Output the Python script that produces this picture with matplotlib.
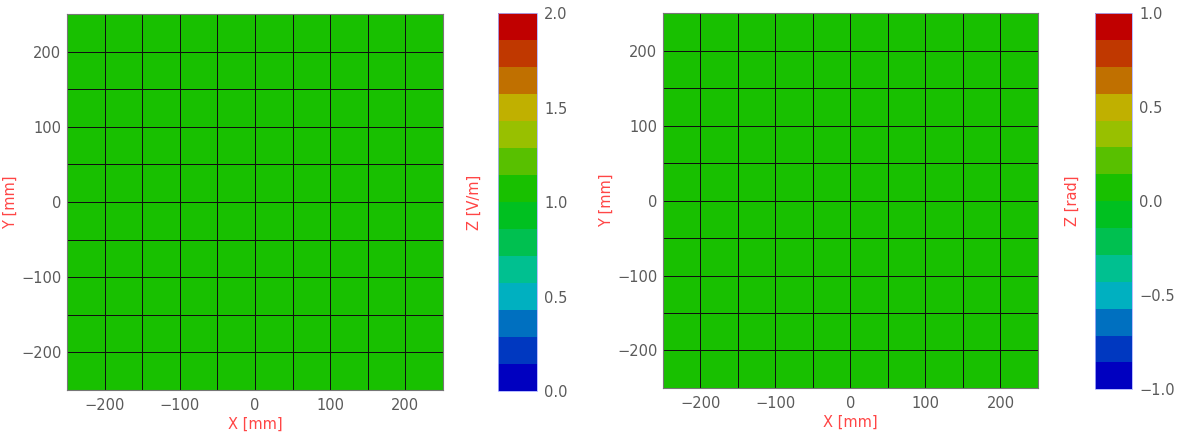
import numpy as np
import matplotlib
matplotlib.use("Agg")
import matplotlib.pyplot as plt
from matplotlib.colors import ListedColormap, Normalize
from matplotlib.colorbar import ColorbarBase

# cell edges of the 10x10 sample grid (mm)
x_edges = np.arange(-250, 251, 50)
y_edges = np.arange(-250, 251, 50)

# field values on the grid
efield = np.full((10, 10), 1.0)   # V/m
phase = np.full((10, 10), 0.0)    # rad

# 14 level palette, low -> high
levels = ["#0000C0", "#0038C0", "#0070C0", "#00B0C0", "#00C090", "#00C050",
          "#00C020", "#18C000", "#58C000", "#98C000", "#C0B000", "#C07000",
          "#C03800", "#C00000"]
cmap = ListedColormap(levels)

ticks_xy = [-200, -100, 0, 100, 200]
cb_ticks_left = [0.0, 0.5, 1.0, 1.5, 2.0]
cb_ticks_right = [-1.0, -0.5, 0.0, 0.5, 1.0]

tick_col = "#5a5a5a"
lab_col = "#FF4545"

fig = plt.figure(figsize=(11.92, 4.34), dpi=100)


def panel(rect, cbrect, data, vmin, vmax, cbticks, zlabel):
    ax = fig.add_axes(rect)
    norm = Normalize(vmin, vmax)
    ax.pcolormesh(x_edges, y_edges, data, cmap=cmap, norm=norm,
                  edgecolors="#101010", linewidth=0.6)
    ax.set_xlim(-250, 250)
    ax.set_ylim(-250, 250)
    ax.set_xticks(ticks_xy)
    ax.set_yticks(ticks_xy)
    ax.tick_params(length=0, labelsize=10.5, labelcolor=tick_col)
    ax.tick_params(axis="x", pad=6)
    ax.tick_params(axis="y", pad=4)
    for s in ax.spines.values():
        s.set_color("#777777")
        s.set_linewidth(0.8)
    ax.set_xlabel("X [mm]", color=lab_col, fontsize=10.5)
    ax.set_ylabel("Y [mm]", color=lab_col, fontsize=10.5)
    ax.xaxis.set_label_coords(0.5, -0.072)
    ax.yaxis.set_label_coords(-0.13, 0.5)

    cax = fig.add_axes(cbrect)
    cb = ColorbarBase(cax, cmap=cmap, norm=norm, ticks=cbticks)
    cb.outline.set_edgecolor("#aab0ff")
    cb.outline.set_linewidth(0.6)
    cb.ax.yaxis.set_ticks_position("right")
    cb.ax.tick_params(length=0, labelsize=10.5, labelcolor=tick_col, pad=5)
    cb.ax.set_yticklabels([f"{t:.1f}".replace("-", "\u2212") for t in cbticks])
    cb.ax.yaxis.set_label_position("left")
    cb.set_label(zlabel, color=lab_col, fontsize=10.5)
    cb.ax.yaxis.set_label_coords(-0.42, 0.5)
    return ax


panel([0.0562, 0.1014, 0.3154, 0.8664], [0.4178, 0.099, 0.0329, 0.871],
      efield, 0.0, 2.0, cb_ticks_left, "Z [V/m]")
panel([0.5562, 0.106, 0.3146, 0.864], [0.9186, 0.103, 0.0313, 0.867],
      phase, -1.0, 1.0, cb_ticks_right, "Z [rad]")

fig.savefig("out.png", dpi=100)
